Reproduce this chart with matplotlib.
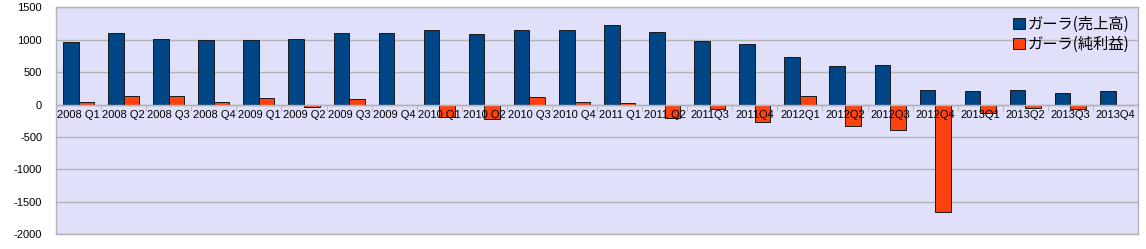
import matplotlib
matplotlib.use("Agg")
import matplotlib.pyplot as plt
import numpy as np

categories = ["2008 Q1", "2008 Q2", "2008 Q3", "2008 Q4", "2009 Q1", "2009 Q2", "2009 Q3", "2009 Q4",
              "2010 Q1", "2010 Q2", "2010 Q3", "2010 Q4", "2011 Q1", "2011 Q2", "2011Q3", "2011Q4",
              "2012Q1", "2012Q2", "2012Q3", "2012Q4", "2013Q1", "2013Q2", "2013Q3", "2013Q4"]
sales = [970, 1100, 1015, 994, 1005, 1020, 1113, 1108,
         1149, 1093, 1159, 1154, 1226, 1124, 985, 943,
         737, 598, 618, 227, 206, 221, 185, 206]
profit = [45, 128, 134, 42, 97, -36, 82, -10,
          -190, -216, 113, 42, 31, -200, -67, -270,
          134, -335, -386, -1664, -134, -51, -67, -10]
series_names = ["ガーラ(売上高)", "ガーラ(純利益)"]
yticks = [-2000, -1500, -1000, -500, 0, 500, 1000, 1500]

plt.rcParams['font.family'] = ['Liberation Sans', 'Noto Sans CJK JP', 'DejaVu Sans']

fig = plt.figure(figsize=(11.46, 2.49), dpi=100)
ax = fig.add_axes([0.0489, 0.060, 0.9442, 0.910])
ax.set_facecolor('#e0e0fa')

x = np.arange(len(categories))
w = 0.345
ax.bar(x - w / 2, sales, width=w, color='#004586', edgecolor='#1a1a1a', linewidth=0.7,
       label=series_names[0], zorder=3)
ax.bar(x + w / 2, profit, width=w, color='#ff420e', edgecolor='#1a1a1a', linewidth=0.7,
       label=series_names[1], zorder=3)

ax.set_xlim(-0.5, len(categories) - 0.5)
ax.set_ylim(-2000, 1500)
ax.set_yticks(yticks)
ax.set_yticklabels([str(v) for v in yticks], fontsize=8)
ax.tick_params(axis='y', length=0, pad=10)
ax.yaxis.grid(True, color='#b3b3b3', linewidth=1.0, zorder=1)
ax.set_axisbelow(True)
for s in ax.spines.values():
    s.set_color('#b3b3b3')
    s.set_linewidth(1.0)

# zero-line axis with category labels drawn above the bars
ax.spines['bottom'].set_position(('data', 0))
ax.spines['bottom'].set_zorder(4)
ax.set_xticks(x)
ax.set_xticklabels(categories, fontsize=8)
ax.set_xticks(np.arange(len(categories) + 1) - 0.5, minor=True)
ax.tick_params(axis='x', which='major', length=0, pad=4)
ax.tick_params(axis='x', which='minor', length=4, direction='out', color='#b3b3b3')
ax.xaxis.set_zorder(5)
# outer bottom border of plot area
ax.plot([0, 1], [0, 0], transform=ax.transAxes, color='#b3b3b3', linewidth=1.0,
        clip_on=False, zorder=5)

leg = ax.legend(loc='upper right', frameon=False, fontsize=11, handlelength=0.75,
                handleheight=0.75, handletextpad=0.2, labelspacing=0.2,
                borderaxespad=0.15)
for t in leg.get_texts():
    t.set_family(['Noto Sans CJK JP', 'DejaVu Sans'])

fig.savefig('out.png', dpi=100, facecolor='white')
